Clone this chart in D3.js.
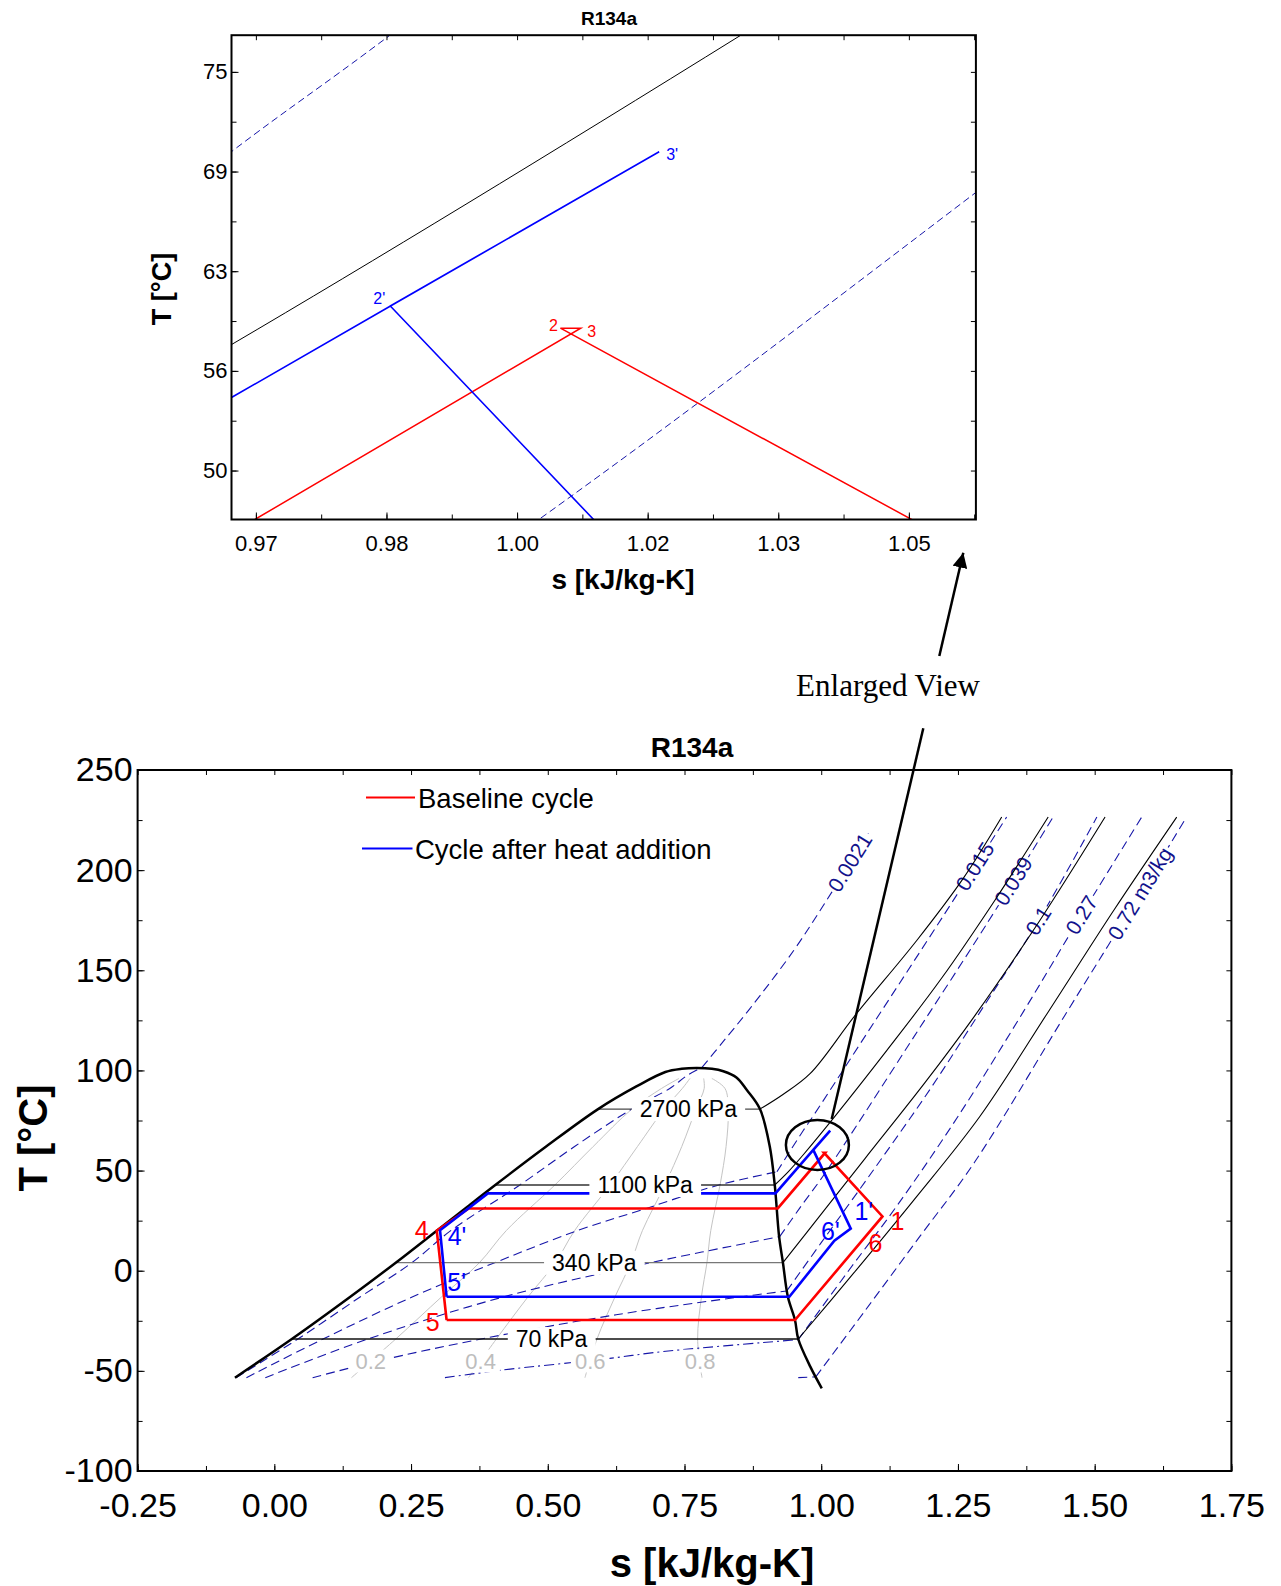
<!DOCTYPE html>
<html>
<head>
<meta charset="utf-8">
<script src="https://cdn.jsdelivr.net/npm/d3@7"></script>
<style>
body { margin: 0; background: #fff; }
svg text { font-family: "Liberation Sans", Arial, sans-serif; }
</style>
</head>
<body>
<svg id="fig" width="1281" height="1586"></svg>
<script>
// ---------- data: [s kJ/kg-K, T degC] ----------
var dome = [[-0.072,-53.4],[0.032,-34.1],[0.139,-13],[0.222,4],[0.297,20],[0.349,31.1],[0.404,42.8],
  [0.497,62],[0.592,80.7],[0.662,92],[0.715,99.2],[0.745,100.8],[0.772,101.2],[0.800,100.8],
  [0.821,99.6],[0.845,96.5],[0.864,90.2],[0.888,80.7],[0.906,61.9],[0.915,42.8],[0.923,17],
  [0.930,4],[0.939,-13],[0.952,-24.6],[0.958,-34.1],[0.980,-47.9],[1.001,-58.7]];

// isobars inside the dome
var pressNames = ["2700 kPa", "1100 kPa", "340 kPa", "70 kPa"];
var pressT = [80.7, 42.8, 4.0, -34.1];
var pressSL = [0.592, 0.404, 0.222, 0.032];
var pressSV = [0.888, 0.915, 0.930, 0.958];
var pressLabelS = [0.757, 0.678, 0.585, 0.507];

// isobars in the vapour region
var isobar2700 = [[0.888,80.7],[0.93,88],[0.98,98.5],[1.062,127.5],[1.175,165],[1.26,196],[1.330,226.5]];
var isobar1100 = [[0.915,42.8],[0.94,49.5],[0.9672,57.9],[1.0257,77.3],[1.12,110],[1.22,146],[1.32,186],[1.415,226.5]];
var isobar340 = [[0.930,4],[1.005,30],[1.08,56],[1.19,94],[1.28,127],[1.40,175],[1.519,226.5]];
var isobar70 = [[0.958,-34.1],[1.06,-1],[1.17,35.5],[1.29,77],[1.415,129.2],[1.535,180],[1.65,226.5]];

// quality lines
var qualNames = ["0.2", "0.4", "0.6", "0.8"];
var qual02 = [[0.141,-53.4],[0.222,-34.1],[0.306,-13],[0.375,4],[0.424,20],[0.513,42.8],[0.583,62],[0.654,80.7],[0.708,91],[0.74,96]];
var qual04 = [[0.355,-53.4],[0.406,-34.1],[0.464,-13],[0.514,4],[0.549,20],[0.614,42.8],[0.664,62],[0.713,80.7],[0.746,91],[0.76,96]];
var qual06 = [[0.568,-53.4],[0.590,-34.1],[0.623,-13],[0.652,4],[0.673,20],[0.714,42.8],[0.745,62],[0.771,80.7],[0.786,91],[0.785,96]];
var qual08 = [[0.782,-53.4],[0.774,-34.1],[0.781,-13],[0.791,4],[0.798,20],[0.815,42.8],[0.826,62],[0.830,80.7],[0.824,91],[0.80,96]];

// isochores (two-phase part, vapour part)
var volNames = ["0.0021", "0.015", "0.039", "0.1", "0.27", "0.72 m3/kg"];
var volLabelS = [1.0527, 1.2812, 1.3513, 1.397, 1.476, 1.583];
var vol0021Wet = [[-0.070,-53.4],[0.043,-34.1],[0.1575,-13],[0.2515,4],[0.3226,20],[0.449,42.8],[0.549,62],[0.6535,80.7],[0.723,91],[0.755,97.5],[0.782,101.5]];
var vol0021Dry = [[0.782,101.5],[0.818,113.5],[0.87,131],[0.95,160],[1.01,185],[1.086,218.4]];
var vol015Wet = [[-0.051,-53.4],[0.089,-34.1],[0.253,-13],[0.403,4],[0.554,20],[0.680,31.1],[0.813,42.8],[0.919,49.4]];
var vol015Dry = [[0.919,49.4],[0.9672,70.0],[0.9854,77.3],[1.10,125.4],[1.22,175.8],[1.339,226.5]];
var vol039Wet = [[-0.0165,-53.4],[0.171,-34.1],[0.420,-13],[0.688,4],[0.924,17]];
var vol039Dry = [[0.924,17],[0.96,31],[1.0025,46.93],[1.0527,67.44],[1.17,117],[1.30,172],[1.424,226.5]];
var vol1Wet = [[0.070,-53.4],[0.191,-45],[0.378,-34.1],[0.625,-22],[0.854,-13],[0.937,-10.1]];
var vol1Dry = [[0.937,-10.1],[1.0,14],[1.10,52],[1.20,91],[1.29,129],[1.40,176],[1.504,226.5]];
var vol27Wet = [[0.312,-53.4],[0.417,-49.6],[0.606,-44],[0.71,-40.4],[0.958,-34.4]];
var vol27Dry = [[0.958,-34.4],[1.05,0],[1.14,33],[1.25,77],[1.37,129.5],[1.47,175],[1.586,226.5]];
var vol72Wet = [[0.958,-53.4],[0.99,-53]];
var vol72Dry = [[0.99,-53],[1.08,-20],[1.18,17],[1.28,54],[1.45,129.5],[1.56,178],[1.668,226.5]];

// cycles
var baseline = [[0.315,-24.6],[0.952,-24.6],[1.112,27.1],[1.00498,58.93],[1.00731,58.93],[0.9205,31.1],[0.3555,31.1],[0.297,20.0],[0.315,-24.6]];
var heated = [[0.315,-13],[0.9417,-13],[1.024,15],[1.054,21.0],[0.98544,60.32],[1.01632,69.99],[0.98586,60.44],[0.9163,38.6],[0.3904,38.6],[0.303,20.2],[0.315,-13]];

// axes
var xTicksMain = [-0.25, 0, 0.25, 0.5, 0.75, 1.0, 1.25, 1.5, 1.75];
var xLabelsMain = ["-0.25", "0.00", "0.25", "0.50", "0.75", "1.00", "1.25", "1.50", "1.75"];
var xMinorMain = d3.range(-0.25, 1.76, 0.125);
var yTicksMain = [-100, -50, 0, 50, 100, 150, 200, 250];
var yLabelsMain = ["-100", "-50", "0", "50", "100", "150", "200", "250"];
var yMinorMain = d3.range(-100, 251, 25);
var xTicksZoom = [0.97, 0.985, 1.0, 1.015, 1.03, 1.045];
var xLabelsZoom = ["0.97", "0.98", "1.00", "1.02", "1.03", "1.05"];
var xMinorZoom = [0.97, 0.9775, 0.985, 0.9925, 1.0, 1.0075, 1.015, 1.0225, 1.03, 1.0375, 1.045, 1.0525];
var yTicksZoom = [50, 56.25, 62.5, 68.75, 75];
var yLabelsZoom = ["50", "56", "63", "69", "75"];
var yMinorZoom = [50, 53.125, 56.25, 59.375, 62.5, 65.625, 68.75, 71.875, 75];

// ---------- drawing ----------
var svg = d3.select("#fig");
var RED = "#ff0000", BLUE = "#0000ff", NAVY = "#1616a8", NAVYTXT = "#12128c";

var main = {
  x: d3.scaleLinear().domain([-0.25, 1.75]).range([137.6, 1231.4]),
  y: d3.scaleLinear().domain([-100, 250]).range([1471, 770])
};
var zoom = {
  x: d3.scaleLinear().domain([0.9672, 1.0527]).range([231.5, 975.9]),
  y: d3.scaleLinear().domain([46.93, 77.3]).range([519.5, 35.2])
};

var defs = svg.append("defs");
function clip(id, p) {
  defs.append("clipPath").attr("id", id).append("rect")
    .attr("x", p.x.range()[0]).attr("y", p.y.range()[1])
    .attr("width", p.x.range()[1] - p.x.range()[0])
    .attr("height", p.y.range()[0] - p.y.range()[1]);
}
clip("clipMain", main);
clip("clipZoom", zoom);

function gen(p, smooth) {
  var l = d3.line().x(function(d) { return p.x(d[0]); }).y(function(d) { return p.y(d[1]); });
  if (smooth) l.curve(d3.curveCatmullRom.alpha(0.5));
  return l;
}

function path(g, data, p, smooth, stroke, width, dash) {
  g.append("path").datum(data).attr("d", gen(p, smooth))
    .attr("fill", "none").attr("stroke", stroke).attr("stroke-width", width)
    .attr("stroke-dasharray", dash || null).attr("stroke-linejoin", "miter");
}

function tag(g, x, y, txt, o) {
  var t = g.append("g").attr("transform", "translate(" + x + "," + y + ") rotate(" + (o.angle || 0) + ")");
  var r = t.append("rect").attr("fill", "#fff");
  var tx = t.append("text").attr("text-anchor", "middle").attr("dy", "0.35em")
    .attr("font-size", o.size).attr("fill", o.color).attr("font-weight", o.bold ? "bold" : null).text(txt);
  if (o.bg) {
    var b = tx.node().getBBox();
    r.attr("x", b.x - o.px).attr("y", b.y - o.py).attr("width", b.width + 2 * o.px).attr("height", b.height + 2 * o.py);
  } else r.remove();
}

// T on a curve at given s, plus local screen angle
function onCurve(pts, s, p) {
  for (var i = 0; i < pts.length - 1; i++) {
    var a = pts[i], b = pts[i + 1];
    if (s >= a[0] && s <= b[0]) {
      var t = (s - a[0]) / (b[0] - a[0]);
      var ang = Math.atan2(p.y(b[1]) - p.y(a[1]), p.x(b[0]) - p.x(a[0])) * 180 / Math.PI;
      return [a[1] + t * (b[1] - a[1]), ang];
    }
  }
  return [pts[pts.length - 1][1], 0];
}
function sAtT(pts, T) {
  for (var i = 0; i < pts.length - 1; i++) {
    var a = pts[i], b = pts[i + 1];
    if (T >= a[1] && T <= b[1]) return a[0] + (T - a[1]) / (b[1] - a[1]) * (b[0] - a[0]);
  }
  return pts[0][0];
}

var quals = [qual02, qual04, qual06, qual08];
var wets = [vol0021Wet, vol015Wet, vol039Wet, vol1Wet, vol27Wet, vol72Wet];
var drys = [vol0021Dry, vol015Dry, vol039Dry, vol1Dry, vol27Dry, vol72Dry];
var isobars = [isobar2700, isobar1100, isobar340, isobar70];
var pressStroke = ["#4a4a4a", "#333", "#777", "#111"];

function drawField(g, p, isMain) {
  var w = isMain ? 1.1 : 1.0;
  var dash = isMain ? "9,5" : "7,4";
  // quality lines
  quals.forEach(function(q) { path(g, q, p, true, "#c4c4c4", 1, null); });
  // isochores
  wets.forEach(function(v, i) { path(g, v, p, true, NAVY, w, i === 4 ? "10,4,2,4" : dash); });
  drys.forEach(function(v) { path(g, v, p, true, NAVY, w, dash); });
  if (isMain) {
    drys.forEach(function(v, i) {
      var c = onCurve(v, volLabelS[i], p);
      tag(g, p.x(volLabelS[i]), p.y(c[0]), volNames[i], {size: 21, color: NAVYTXT, angle: c[1], bg: true, px: 2, py: -2});
    });
  }
  // isobars
  isobars.forEach(function(b) { path(g, b, p, true, "#000", w, null); });
  pressT.forEach(function(T, i) {
    path(g, [[pressSL[i], T], [pressSV[i], T]], p, false, pressStroke[i], 1.3, null);
  });
}

// ---------- main chart ----------
var gMain = svg.append("g");
var fieldMain = gMain.append("g").attr("clip-path", "url(#clipMain)");
drawField(fieldMain, main, true);
path(fieldMain, dome, main, true, "#000", 2.5, null);
path(fieldMain, baseline, main, false, RED, 2.6, null);
path(fieldMain, heated, main, false, BLUE, 2.6, null);

// labels in the dome
pressNames.forEach(function(n, i) {
  tag(gMain, main.x(pressLabelS[i]), main.y(pressT[i]), n, {size: 23, color: "#000", bg: true, px: 8, py: -1});
});
qualNames.forEach(function(n, i) {
  var s = sAtT(quals[i], -45);
  tag(gMain, main.x(s), main.y(-45), n, {size: 22, color: "#bdbdbd", bg: true, px: 4, py: -1});
});

// cycle point labels: [text, colour, cycle, index, dx, dy]
var mainPts = [["4", RED, baseline, 7, -15, 0], ["5", RED, baseline, 0, -14, 2], ["1", RED, baseline, 2, 15, 5],
  ["6", RED, baseline, 2, -7, 27], ["4'", BLUE, heated, 9, 17, 6], ["5'", BLUE, heated, 0, 10, -15],
  ["6'", BLUE, heated, 2, -4, -9], ["1'", BLUE, heated, 3, 13, -17]];
mainPts.forEach(function(m) {
  var d = m[2][m[3]];
  tag(gMain, main.x(d[0]) + m[4], main.y(d[1]) + m[5], m[0], {size: 25, color: m[1]});
});

// zoom circle
gMain.append("ellipse").attr("cx", main.x(0.993)).attr("cy", main.y(62.8)).attr("rx", 31.5).attr("ry", 25)
  .attr("fill", "none").attr("stroke", "#000").attr("stroke-width", 2.5);

// legend
var legend = [["Baseline cycle", RED, 366, 415, 797.5, 418, 808], ["Cycle after heat addition", BLUE, 362, 412.5, 848.5, 415, 859]];
legend.forEach(function(l) {
  gMain.append("line").attr("x1", l[2]).attr("x2", l[3]).attr("y1", l[4]).attr("y2", l[4])
    .attr("stroke", l[1]).attr("stroke-width", 2.2);
  gMain.append("text").attr("x", l[5]).attr("y", l[6]).attr("font-size", 27.5).text(l[0]);
});

function axes(g, p, o) {
  var x0 = p.x.range()[0], x1 = p.x.range()[1], yb = p.y.range()[0], yt = p.y.range()[1];
  function style(sel) {
    sel.select(".domain").remove();
    sel.attr("font-family", null).attr("font-size", o.font);
    sel.selectAll("line").attr("stroke", "#000").attr("stroke-width", 1);
    sel.selectAll("text").attr("fill", "#000");
  }
  g.append("g").attr("transform", "translate(0," + yb + ")")
    .call(d3.axisBottom(p.x).tickValues(o.xMajor).tickFormat(function(d, i) { return o.xLabels[i]; })
      .tickSize(-o.major).tickPadding(o.xPad)).call(style);
  g.append("g").attr("transform", "translate(" + x0 + ",0)")
    .call(d3.axisLeft(p.y).tickValues(o.yMajor).tickFormat(function(d, i) { return o.yLabels[i]; })
      .tickSize(-o.major).tickPadding(o.yPad)).call(style);
  g.append("g").attr("transform", "translate(0," + yb + ")")
    .call(d3.axisBottom(p.x).tickValues(o.xMinor).tickFormat("").tickSize(-o.minor)).call(style);
  g.append("g").attr("transform", "translate(" + x0 + ",0)")
    .call(d3.axisLeft(p.y).tickValues(o.yMinor).tickFormat("").tickSize(-o.minor)).call(style);
  g.append("g").attr("transform", "translate(0," + yt + ")")
    .call(d3.axisTop(p.x).tickValues(o.xMinor).tickFormat("").tickSize(-o.minor)).call(style);
  g.append("g").attr("transform", "translate(" + x1 + ",0)")
    .call(d3.axisRight(p.y).tickValues(o.yMinor).tickFormat("").tickSize(-o.minor)).call(style);
  g.append("rect").attr("x", x0).attr("y", yt).attr("width", x1 - x0).attr("height", yb - yt)
    .attr("fill", "none").attr("stroke", "#000").attr("stroke-width", 2);
}

axes(gMain, main, {xMajor: xTicksMain, xLabels: xLabelsMain, xMinor: xMinorMain, yMajor: yTicksMain,
  yLabels: yLabelsMain, yMinor: yMinorMain, font: 34, xPad: 22, yPad: 5, major: 7, minor: 5});

gMain.append("text").attr("x", 692).attr("y", 757).attr("text-anchor", "middle")
  .attr("font-size", 28).attr("font-weight", "bold").text("R134a");
gMain.append("text").attr("x", 712).attr("y", 1577).attr("text-anchor", "middle")
  .attr("font-size", 40).attr("font-weight", "bold").text("s [kJ/kg-K]");
gMain.append("text").attr("transform", "translate(47,1138) rotate(-90)").attr("text-anchor", "middle")
  .attr("font-size", 40).attr("font-weight", "bold").text("T [°C]");

// ---------- enlarged view ----------
var gZoom = svg.append("g");
var fieldZoom = gZoom.append("g").attr("clip-path", "url(#clipZoom)");
drawField(fieldZoom, zoom, false);
path(fieldZoom, baseline, zoom, false, RED, 1.5, null);
path(fieldZoom, heated, zoom, false, BLUE, 1.6, null);

var zoomPts = [["2'", BLUE, heated, 4, -11, -8], ["3'", BLUE, heated, 5, 13, 3],
  ["2", RED, baseline, 3, -7, -3], ["3", RED, baseline, 4, 11, 3]];
zoomPts.forEach(function(m) {
  var d = m[2][m[3]];
  tag(gZoom, zoom.x(d[0]) + m[4], zoom.y(d[1]) + m[5], m[0], {size: 16, color: m[1]});
});

axes(gZoom, zoom, {xMajor: xTicksZoom, xLabels: xLabelsZoom, xMinor: xMinorZoom, yMajor: yTicksZoom,
  yLabels: yLabelsZoom, yMinor: yMinorZoom, font: 22, xPad: 16, yPad: 4, major: 7, minor: 5});

gZoom.append("text").attr("x", 609).attr("y", 25).attr("text-anchor", "middle")
  .attr("font-size", 19).attr("font-weight", "bold").text("R134a");
gZoom.append("text").attr("x", 623).attr("y", 589).attr("text-anchor", "middle")
  .attr("font-size", 28).attr("font-weight", "bold").text("s [kJ/kg-K]");
gZoom.append("text").attr("transform", "translate(171,289) rotate(-90)").attr("text-anchor", "middle")
  .attr("font-size", 27).attr("font-weight", "bold").text("T [°C]");

// ---------- callout ----------
defs.append("marker").attr("id", "head").attr("viewBox", "0 0 10 10").attr("refX", 10).attr("refY", 5)
  .attr("markerWidth", 6).attr("markerHeight", 6).attr("markerUnits", "strokeWidth").attr("orient", "auto")
  .append("path").attr("d", "M0,0 L10,5 L0,10 z").attr("fill", "#000");
svg.append("line").attr("x1", 831.7).attr("y1", 1119).attr("x2", 923.3).attr("y2", 728.3)
  .attr("stroke", "#000").attr("stroke-width", 2.5);
svg.append("line").attr("x1", 939.3).attr("y1", 656).attr("x2", 963.3).attr("y2", 552.7)
  .attr("stroke", "#000").attr("stroke-width", 2.5).attr("marker-end", "url(#head)");
svg.append("text").attr("x", 888).attr("y", 695.5).attr("text-anchor", "middle")
  .style("font-family", "'Liberation Serif', 'Times New Roman', serif").attr("font-size", 31).text("Enlarged View");
</script>
</body>
</html>
